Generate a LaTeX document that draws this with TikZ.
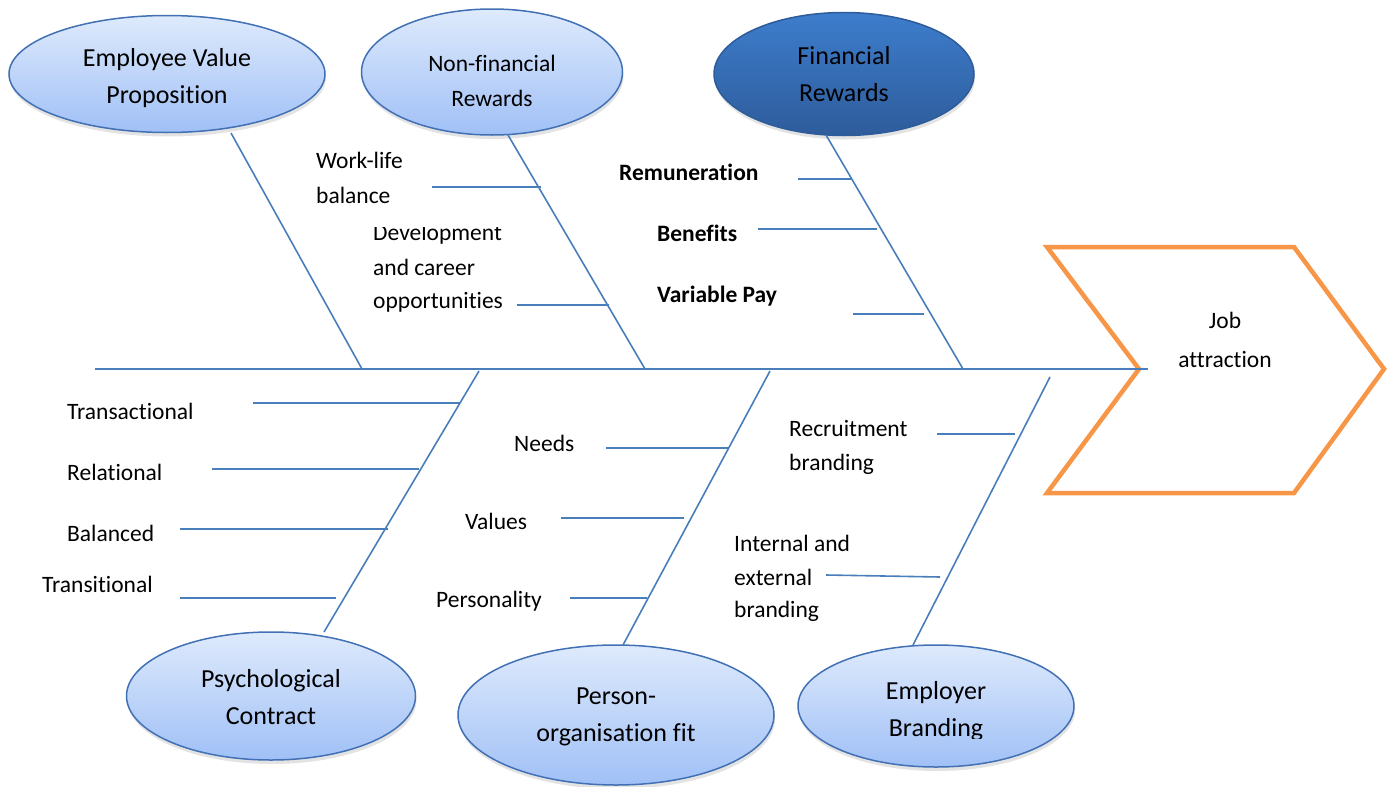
\documentclass[tikz,border=0pt]{standalone}
\usepackage{fontspec}
\setmainfont{Carlito}[Ligatures=NoCommon]
\usetikzlibrary{shapes.geometric,shadows}
\definecolor{bone}{RGB}{74,126,187}
\definecolor{elltop}{RGB}{222,234,252}
\definecolor{ellbot}{RGB}{160,192,246}
\definecolor{ellborder}{RGB}{65,113,180}
\definecolor{fintop}{RGB}{61,125,204}
\definecolor{finbot}{RGB}{46,92,155}
\definecolor{chev}{RGB}{247,150,70}
\begin{document}
\begin{tikzpicture}[x=1pt,y=-1pt,
  ell/.style={ellipse, draw=ellborder, line width=1.5pt, top color=elltop, bottom color=ellbot,
    inner sep=0pt,
    drop shadow={opacity=0.22, shadow xshift=1pt, shadow yshift=-4pt}},
  finell/.style={ell, top color=fintop, bottom color=finbot, draw=finbot},
  etext/.style={align=center, inner sep=0pt, font=\fontsize{26}{37}\selectfont},
  bonel/.style={draw=bone, line width=1.6pt},
  lab/.style={anchor=base west, inner sep=0pt, font=\fontsize{23.5}{34}\selectfont},
  blab/.style={lab, font=\fontsize{23.5}{34}\selectfont\bfseries},
]
\useasboundingbox (0,0) rectangle (1387,787);

% ellipses
\node[ell, minimum width=316pt, minimum height=117pt,
  label={[etext, name=evpt, yshift=-4pt]center:{Employee Value\\Proposition}}] (evp) at (167,74) {};
\node[ell, minimum width=261pt, minimum height=126pt,
  label={[etext, name=nfrt, yshift=-9pt, font=\fontsize{23.5}{35}\selectfont]center:{Non-financial\\Rewards}}] (nfr) at (492,72) {};
\node[finell, minimum width=260pt, minimum height=123pt,
  label={[etext, name=fint]center:{Financial\\Rewards}}] (fin) at (844,74) {};
\node[ell, minimum width=289pt, minimum height=128pt,
  label={[etext, name=psyt, yshift=-1pt]center:{Psychological\\Contract}}] (psy) at (271,696) {};
\node[ell, minimum width=316pt, minimum height=140pt,
  label={[etext, name=poft, yshift=-2pt]center:{Person-\\organisation fit}}] (pof) at (616,715) {};
\node[ell, minimum width=276pt, minimum height=122pt] (emb) at (936,706) {};
\begin{scope}
  \clip (800,640) rectangle (1080,738.5);
  \node[etext] (embt) at (936,711) {Employer\\Branding};
\end{scope}

% chevron
\coordinate (c1) at (1047,247);
\coordinate (c2) at (1294,247);
\coordinate (c3) at (1384,369);
\coordinate (c4) at (1294,493);
\coordinate (c5) at (1047,493);
\coordinate (c6) at (1139,369);
\draw[chev, line width=4.5pt, line join=miter] (c1) -- (c2) -- (c3) -- (c4) -- (c5) -- (c6) -- cycle;
\node[inner sep=0pt, anchor=base, font=\fontsize{23.5}{39}\selectfont] (job1) at (1225,328) {Job};
\node[inner sep=0pt, anchor=base, font=\fontsize{23.5}{39}\selectfont] (job2) at (1225,367) {attraction};

% spine
\coordinate (sp0) at (95,369);
\coordinate (sp1) at (1148,369);
\draw[bonel] (sp0) -- (sp1);

% main bones
\coordinate (b1a) at (231,133); \coordinate (b1b) at (362,369);
\coordinate (b2a) at (508,135); \coordinate (b2b) at (645,369);
\coordinate (b3a) at (826,135); \coordinate (b3b) at (963,369);
\coordinate (b4a) at (324,632); \coordinate (b4b) at (479,371);
\coordinate (b5a) at (623,645); \coordinate (b5b) at (770,371);
\coordinate (b6a) at (913,645); \coordinate (b6b) at (1050,377);
\draw[bonel] (b1a) -- (b1b);
\draw[bonel] (b2a) -- (b2b);
\draw[bonel] (b3a) -- (b3b);
\draw[bonel] (b4a) -- (b4b);
\draw[bonel] (b5a) -- (b5b);
\draw[bonel] (b6a) -- (b6b);

% sub bones
\coordinate (w1) at (432,187); \coordinate (w2) at (541,187);
\coordinate (d1) at (517,305); \coordinate (d2) at (609,305);
\coordinate (r1) at (798,179); \coordinate (r2) at (851,179);
\coordinate (be1) at (758,229); \coordinate (be2) at (877,229);
\coordinate (v1) at (853,314); \coordinate (v2) at (924,314);
\coordinate (t1) at (253,403); \coordinate (t2) at (460,403);
\coordinate (re1) at (212,469); \coordinate (re2) at (419,469);
\coordinate (ba1) at (180,529); \coordinate (ba2) at (388,529);
\coordinate (tr1) at (180,598); \coordinate (tr2) at (336,598);
\coordinate (n1) at (606,448); \coordinate (n2) at (728,448);
\coordinate (va1) at (561,518); \coordinate (va2) at (684,518);
\coordinate (p1) at (570,598); \coordinate (p2) at (647,598);
\coordinate (rb1) at (937,434); \coordinate (rb2) at (1015,434);
\coordinate (ie1) at (826,575); \coordinate (ie2) at (940,577);
\foreach \a/\b in {w1/w2,d1/d2,r1/r2,be1/be2,v1/v2,t1/t2,re1/re2,ba1/ba2,tr1/tr2,n1/n2,va1/va2,p1/p2,rb1/rb2,ie1/ie2}
  \draw[bonel] (\a) -- (\b);

% labels
\node[lab] (lw1) at (316,168) {Work-life};
\node[lab] (lw2) at (316,203) {balance};
\begin{scope}
  \clip (360,227) rectangle (530,250);
  \node[lab] (ld1) at (373,240) {Development};
\end{scope}
\node[lab] (ld2) at (373,275) {and career};
\node[lab] (ld3) at (373,308) {opportunities};
\node[blab] (lr) at (619,180) {Remuneration};
\node[blab] (lb) at (657,241) {Benefits};
\node[blab] (lv) at (657,302) {Variable Pay};
\node[lab] (lt) at (67,419) {Transactional};
\node[lab] (lre) at (67,480) {Relational};
\node[lab] (lba) at (67,541) {Balanced};
\node[lab] (ltr) at (42,592) {Transitional};
\node[lab] (ln) at (514,451) {Needs};
\node[lab] (lva) at (465,529) {Values};
\node[lab] (lp) at (436,607) {Personality};
\node[lab] (lrb1) at (789,436) {Recruitment};
\node[lab] (lrb2) at (789,470) {branding};
\node[lab] (li1) at (734,551) {Internal and};
\node[lab] (li2) at (734,585) {external};
\node[lab] (li3) at (734,617) {branding};
\end{tikzpicture}
\end{document}
